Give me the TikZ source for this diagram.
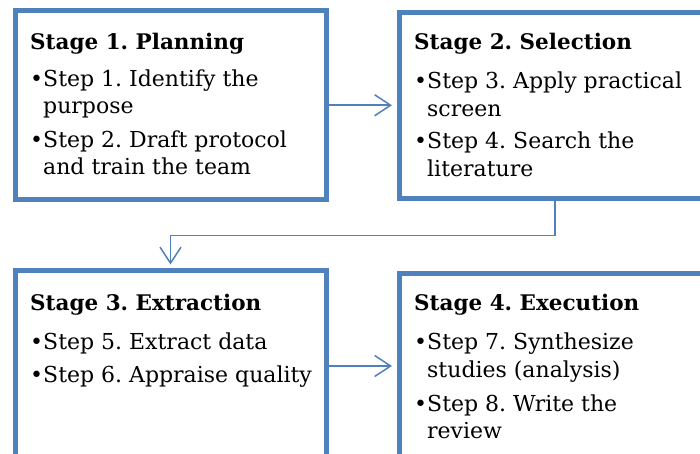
\documentclass[tikz,border=0pt]{standalone}
\usepackage{fontspec}
\setmainfont{DejaVu Serif}
\usetikzlibrary{arrows.meta}
\definecolor{boxblue}{HTML}{4F81BD}
\frenchspacing
\tikzset{
  stagebox/.style={draw=boxblue, line width=5pt, inner sep=0pt, outer sep=0pt, fill=white},
  conn/.style={draw=boxblue, line width=1.5pt, -{Straight Barb[length=16pt,width=21pt,line width=1.5pt]}},
  ttl/.style={anchor=base west, inner sep=0pt, font=\fontsize{21.5}{25}\selectfont\bfseries},
  txt/.style={anchor=base west, inner sep=0pt, font=\fontsize{22}{26}\selectfont},
  bul/.style={anchor=base west, inner sep=0pt, font=\fontsize{22}{26}\selectfont}
}
\begin{document}
\begin{tikzpicture}[x=1pt,y=-1pt]
\useasboundingbox (0,0) rectangle (700,454);
\clip (0,0) rectangle (700,454);
% boxes
\node[stagebox, minimum width=311pt, minimum height=189pt] (b1) at (170.5,105.25) {};
\node[stagebox, minimum width=312pt, minimum height=186.5pt] (b2) at (555,105.75) {};
\node[stagebox, minimum width=311pt, minimum height=191pt] (b3) at (170.5,366) {};
\node[stagebox, minimum width=312pt, minimum height=186pt] (b4) at (555,366) {};
% box 1 text
\node[ttl] (t1) at (30,50) {Stage 1. Planning};
\node[bul] (u1a) at (30,87) {•};
\node[txt] (s1a) at (43,87) {Step 1. Identify the};
\node[txt] (s1b) at (43,114) {purpose};
\node[bul] (u1b) at (30,148) {•};
\node[txt] (s1c) at (43,148) {Step 2. Draft protocol};
\node[txt] (s1d) at (43,175) {and train the team};
% box 2 text
\node[ttl] (t2) at (414,50) {Stage 2. Selection};
\node[bul] (u2a) at (414,89) {•};
\node[txt] (s2a) at (427,89) {Step 3. Apply practical};
\node[txt] (s2b) at (427,117) {screen};
\node[bul] (u2b) at (414,149) {•};
\node[txt] (s2c) at (427,149) {Step 4. Search the};
\node[txt] (s2d) at (427,177) {literature};
% box 3 text
\node[ttl] (t3) at (30,310.7) {Stage 3. Extraction};
\node[bul] (u3a) at (30,349) {•};
\node[txt] (s3a) at (43,349) {Step 5. Extract data};
\node[bul] (u3b) at (30,382) {•};
\node[txt] (s3b) at (43,382) {Step 6. Appraise quality};
% box 4 text
\node[ttl] (t4) at (414,310.7) {Stage 4. Execution};
\node[bul] (u4a) at (414,349) {•};
\node[txt] (s4a) at (427,349) {Step 7. Synthesize};
\node[txt] (s4b) at (427,377) {studies (analysis)};
\node[bul] (u4b) at (414,411.5) {•};
\node[txt] (s4c) at (427,411.5) {Step 8. Write the};
\node[txt] (s4d) at (427,438) {review};
% connectors
\draw[conn, shorten <=2.5pt, shorten >=7pt] (b1.east) -- (b2.west |- b1.east);
\draw[conn, shorten <=2.5pt, shorten >=6pt] (b2.south) -- ++(0,36.5) -| (b3.north);
\draw[conn, shorten <=2.5pt, shorten >=7pt] (b3.east) -- (b4.west);
\end{tikzpicture}
\end{document}
